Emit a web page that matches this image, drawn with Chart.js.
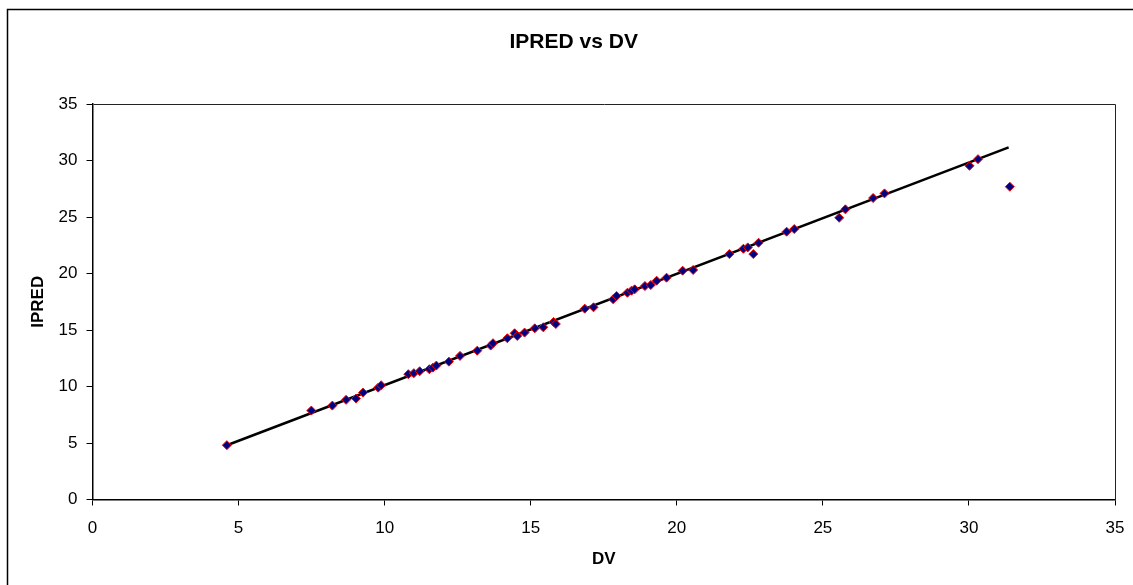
<!DOCTYPE html>
<html>
<head>
<meta charset="utf-8">
<script src="https://cdn.jsdelivr.net/npm/chart.js@4.4.0/dist/chart.umd.min.js"></script>
<style>
  html, body { margin: 0; padding: 0; background: #fff; }
  #wrap { width: 1133px; height: 585px; position: relative; }
</style>
</head>
<body>
<div id="wrap"><canvas id="c" width="1133" height="585"></canvas></div>
<script>
const titleText = 'IPRED vs DV';
const xTitle = 'DV';
const yTitle = 'IPRED';

const dv = [4.6, 7.49, 8.21, 8.68, 9.02, 9.26, 9.78, 9.88, 10.81, 11.0, 11.2, 11.53, 11.65, 11.77, 12.2, 12.58, 13.17, 13.63, 13.71, 14.2, 14.45, 14.54, 14.79, 15.14, 15.43, 15.78, 15.86, 16.85, 17.15, 17.82, 17.94, 18.31, 18.45, 18.56, 18.91, 19.11, 19.31, 19.65, 20.2, 20.56, 21.8, 22.28, 22.43, 22.62, 22.8, 23.76, 24.02, 25.56, 25.77, 26.72, 27.11, 30.02, 30.31, 31.4];
const ipred = [4.81, 7.87, 8.31, 8.82, 8.93, 9.46, 9.9, 10.11, 11.09, 11.18, 11.35, 11.53, 11.67, 11.85, 12.2, 12.71, 13.17, 13.62, 13.83, 14.27, 14.71, 14.47, 14.77, 15.15, 15.24, 15.71, 15.53, 16.89, 17.01, 17.72, 18.01, 18.3, 18.48, 18.6, 18.89, 18.98, 19.36, 19.63, 20.25, 20.31, 21.72, 22.19, 22.31, 21.72, 22.72, 23.7, 23.93, 24.93, 25.68, 26.68, 27.09, 29.53, 30.12, 27.68];

const lineX = [4.6, 31.36];
const lineY = [4.8, 31.16];

const axisMin = 0, axisMax = 35, axisStep = 5;

const FONT = '"Liberation Sans", Arial, sans-serif';

const pts = dv.map((x, i) => ({x: x, y: ipred[i]}));
const linePts = lineX.map((x, i) => ({x: x, y: lineY[i]}));

const framePlugin = {
  id: 'frame',
  afterDraw(chart) {
    const ctx = chart.ctx;
    const a = chart.chartArea;
    ctx.save();
    ctx.strokeStyle = '#000';
    ctx.lineWidth = 1.5;
    ctx.strokeRect(7.5, 9.5, 1200, 700);
    ctx.lineWidth = 1;
    ctx.strokeStyle = '#222';
    ctx.beginPath();
    ctx.moveTo(Math.round(a.left) + 0.5, Math.round(a.top) + 0.5);
    ctx.lineTo(Math.round(a.right) + 0.5, Math.round(a.top) + 0.5);
    ctx.lineTo(Math.round(a.right) + 0.5, Math.round(a.bottom) + 0.5);
    ctx.stroke();
    ctx.fillStyle = '#000';
    ctx.font = 'bold 21px ' + FONT;
    ctx.textAlign = 'center';
    ctx.textBaseline = 'middle';
    ctx.fillText(titleText, 573.7, 42);
    ctx.restore();
  }
};

new Chart(document.getElementById('c'), {
  type: 'scatter',
  data: {
    datasets: [
      {
        label: 'IPRED',
        data: pts,
        pointStyle: 'rectRot',
        pointRadius: 4.5,
        pointHoverRadius: 4.5,
        backgroundColor: '#000080',
        borderColor: '#ff0000',
        pointBorderWidth: 1,
        order: 1
      },
      {
        label: 'line',
        data: linePts,
        showLine: true,
        borderColor: '#000',
        borderWidth: 2.5,
        pointRadius: 0,
        fill: false,
        order: 2
      }
    ]
  },
  options: {
    responsive: false,
    animation: false,
    devicePixelRatio: 1,
    layout: { padding: { left: 0, right: 18, top: 104, bottom: 0 } },
    plugins: {
      legend: { display: false },
      title: { display: false },
      tooltip: { enabled: false }
    },
    scales: {
      x: {
        type: 'linear',
        min: axisMin, max: axisMax,
        ticks: { stepSize: axisStep, color: '#000', font: { family: FONT, size: 17 }, padding: 13, maxRotation: 0 },
        grid: { display: true, drawOnChartArea: false, drawTicks: true, tickLength: 6, tickColor: '#000', tickWidth: 1 },
        border: { display: true, color: '#000', width: 1.5 },
        title: { display: true, text: xTitle, color: '#000', font: { family: FONT, size: 17, weight: 'bold' }, padding: { top: 0, bottom: 15 } },
        afterFit(s) { s.height = 85.5; s.paddingRight = 10; s.paddingLeft = 0; }
      },
      y: {
        type: 'linear',
        min: axisMin, max: axisMax,
        ticks: { stepSize: axisStep, color: '#000', font: { family: FONT, size: 17 }, padding: 9 },
        grid: { display: true, drawOnChartArea: false, drawTicks: true, tickLength: 6, tickColor: '#000', tickWidth: 1 },
        border: { display: true, color: '#000', width: 1.5 },
        title: { display: true, text: yTitle, color: '#000', font: { family: FONT, size: 17, weight: 'bold' }, padding: { top: 28, bottom: 0 } },
        afterFit(s) { s.width = 92.5; s.paddingTop = 10; s.paddingBottom = 0; }
      }
    }
  },
  plugins: [framePlugin]
});
</script>
</body>
</html>
